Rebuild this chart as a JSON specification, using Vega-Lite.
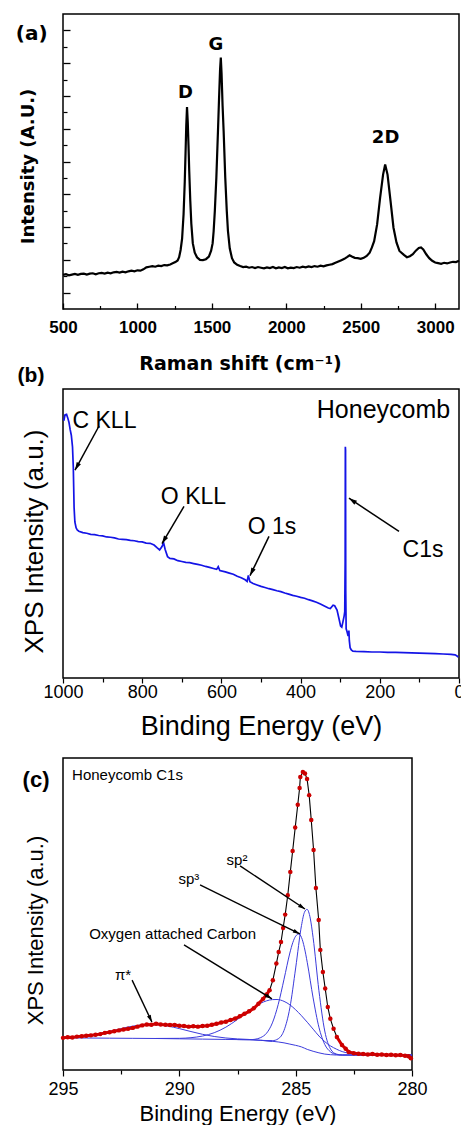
{
"$schema": "https://vega.github.io/schema/vega-lite/v6.json",
"padding": {"left": 15, "top": 13, "right": 0, "bottom": 0},
"background": "white",
"bounds": "flush",
"spacing": 80,
"config": {
  "view": {"stroke": "black", "strokeWidth": 1.5},
  "axis": {"grid": false, "domain": false, "labelColor": "black", "titleColor": "black", "tickColor": "black", "labelFlush": false, "labelOverlap": false}
},
"datasets": {
  "raman": [
    {"shift":500,"intensity":1.04},{"shift":520,"intensity":1.06},{"shift":540,"intensity":1.03},{"shift":560,"intensity":1.05},{"shift":580,"intensity":1.07},{"shift":600,"intensity":1.04},{"shift":620,"intensity":1.07},{"shift":640,"intensity":1.08},{"shift":660,"intensity":1.05},{"shift":680,"intensity":1.08},{"shift":700,"intensity":1.09},{"shift":720,"intensity":1.06},{"shift":740,"intensity":1.09},{"shift":760,"intensity":1.10},{"shift":780,"intensity":1.08},{"shift":800,"intensity":1.11},{"shift":820,"intensity":1.09},{"shift":840,"intensity":1.12},{"shift":860,"intensity":1.13},{"shift":880,"intensity":1.11},{"shift":900,"intensity":1.14},{"shift":920,"intensity":1.12},{"shift":940,"intensity":1.15},{"shift":960,"intensity":1.17},{"shift":980,"intensity":1.15},{"shift":1000,"intensity":1.18},{"shift":1020,"intensity":1.17},{"shift":1040,"intensity":1.21},{"shift":1060,"intensity":1.27},{"shift":1080,"intensity":1.29},{"shift":1100,"intensity":1.31},{"shift":1120,"intensity":1.29},{"shift":1140,"intensity":1.32},{"shift":1160,"intensity":1.31},{"shift":1180,"intensity":1.34},{"shift":1200,"intensity":1.33},{"shift":1220,"intensity":1.36},{"shift":1240,"intensity":1.40},{"shift":1255,"intensity":1.43},{"shift":1270,"intensity":1.48},{"shift":1280,"intensity":1.58},{"shift":1290,"intensity":1.80},{"shift":1300,"intensity":2.15},{"shift":1310,"intensity":2.90},{"shift":1318,"intensity":3.90},{"shift":1324,"intensity":4.90},{"shift":1328,"intensity":5.60},{"shift":1333,"intensity":6.16},{"shift":1338,"intensity":5.70},{"shift":1343,"intensity":5.00},{"shift":1348,"intensity":4.20},{"shift":1355,"intensity":3.30},{"shift":1362,"intensity":2.60},{"shift":1372,"intensity":2.00},{"shift":1385,"intensity":1.72},{"shift":1400,"intensity":1.58},{"shift":1420,"intensity":1.50},{"shift":1440,"intensity":1.49},{"shift":1460,"intensity":1.52},{"shift":1480,"intensity":1.60},{"shift":1495,"intensity":1.78},{"shift":1505,"intensity":2.00},{"shift":1512,"intensity":2.38},{"shift":1520,"intensity":3.00},{"shift":1530,"intensity":4.00},{"shift":1541,"intensity":5.43},{"shift":1548,"intensity":6.40},{"shift":1555,"intensity":7.30},{"shift":1560,"intensity":7.67},{"shift":1565,"intensity":7.20},{"shift":1572,"intensity":6.20},{"shift":1579,"intensity":5.43},{"shift":1590,"intensity":4.00},{"shift":1600,"intensity":3.00},{"shift":1608,"intensity":2.38},{"shift":1620,"intensity":1.85},{"shift":1635,"intensity":1.55},{"shift":1650,"intensity":1.42},{"shift":1670,"intensity":1.35},{"shift":1690,"intensity":1.31},{"shift":1710,"intensity":1.28},{"shift":1730,"intensity":1.29},{"shift":1750,"intensity":1.26},{"shift":1770,"intensity":1.28},{"shift":1790,"intensity":1.25},{"shift":1810,"intensity":1.28},{"shift":1830,"intensity":1.26},{"shift":1850,"intensity":1.24},{"shift":1870,"intensity":1.27},{"shift":1890,"intensity":1.25},{"shift":1910,"intensity":1.28},{"shift":1930,"intensity":1.24},{"shift":1950,"intensity":1.27},{"shift":1970,"intensity":1.25},{"shift":1990,"intensity":1.28},{"shift":2010,"intensity":1.24},{"shift":2030,"intensity":1.26},{"shift":2050,"intensity":1.25},{"shift":2070,"intensity":1.28},{"shift":2090,"intensity":1.26},{"shift":2110,"intensity":1.29},{"shift":2130,"intensity":1.27},{"shift":2150,"intensity":1.30},{"shift":2170,"intensity":1.28},{"shift":2190,"intensity":1.31},{"shift":2210,"intensity":1.29},{"shift":2230,"intensity":1.32},{"shift":2250,"intensity":1.30},{"shift":2270,"intensity":1.33},{"shift":2290,"intensity":1.35},{"shift":2310,"intensity":1.37},{"shift":2330,"intensity":1.41},{"shift":2350,"intensity":1.45},{"shift":2370,"intensity":1.49},{"shift":2390,"intensity":1.53},{"shift":2410,"intensity":1.59},{"shift":2425,"intensity":1.64},{"shift":2440,"intensity":1.60},{"shift":2460,"intensity":1.56},{"shift":2480,"intensity":1.55},{"shift":2500,"intensity":1.53},{"shift":2520,"intensity":1.56},{"shift":2540,"intensity":1.62},{"shift":2560,"intensity":1.72},{"shift":2575,"intensity":1.88},{"shift":2590,"intensity":2.07},{"shift":2610,"intensity":2.58},{"shift":2630,"intensity":3.39},{"shift":2650,"intensity":4.10},{"shift":2664,"intensity":4.41},{"shift":2680,"intensity":4.10},{"shift":2700,"intensity":3.30},{"shift":2720,"intensity":2.48},{"shift":2740,"intensity":2.03},{"shift":2760,"intensity":1.77},{"shift":2790,"intensity":1.65},{"shift":2810,"intensity":1.58},{"shift":2830,"intensity":1.61},{"shift":2850,"intensity":1.67},{"shift":2870,"intensity":1.78},{"shift":2890,"intensity":1.86},{"shift":2905,"intensity":1.88},{"shift":2920,"intensity":1.82},{"shift":2940,"intensity":1.67},{"shift":2960,"intensity":1.55},{"shift":2980,"intensity":1.47},{"shift":3000,"intensity":1.42},{"shift":3020,"intensity":1.40},{"shift":3040,"intensity":1.38},{"shift":3060,"intensity":1.41},{"shift":3080,"intensity":1.39},{"shift":3100,"intensity":1.42},{"shift":3120,"intensity":1.44},{"shift":3140,"intensity":1.43},{"shift":3160,"intensity":1.47}
  ],
  "ramanLabels": [
    {"shift":1323,"intensity":6.59,"label":"D"},
    {"shift":1527,"intensity":8.05,"label":"G"},
    {"shift":2667,"intensity":5.22,"label":"2D"}
  ],
  "panelA": [{"shift":290,"intensity":8.39,"label":"(a)"}],
  "survey": [
    {"energy":998,"counts":8.9},{"energy":995,"counts":9.1},{"energy":991,"counts":9.12},{"energy":988,"counts":9.0},{"energy":985,"counts":8.85},{"energy":982,"counts":8.6},{"energy":979,"counts":8.4},{"energy":976,"counts":8.0},{"energy":974,"counts":7.3},{"energy":973,"counts":6.6},{"energy":972,"counts":5.9},{"energy":970,"counts":5.4},{"energy":967,"counts":5.2},{"energy":964,"counts":5.12},{"energy":960,"counts":5.08},{"energy":950,"counts":5.03},{"energy":940,"counts":5.01},{"energy":930,"counts":4.97},{"energy":920,"counts":4.96},{"energy":910,"counts":4.93},{"energy":900,"counts":4.92},{"energy":890,"counts":4.88},{"energy":880,"counts":4.87},{"energy":870,"counts":4.85},{"energy":860,"counts":4.81},{"energy":850,"counts":4.8},{"energy":840,"counts":4.79},{"energy":830,"counts":4.76},{"energy":820,"counts":4.75},{"energy":810,"counts":4.72},{"energy":800,"counts":4.71},{"energy":790,"counts":4.67},{"energy":780,"counts":4.66},{"energy":770,"counts":4.6},{"energy":762,"counts":4.5},{"energy":756,"counts":4.43},{"energy":750,"counts":4.55},{"energy":746,"counts":4.68},{"energy":742,"counts":4.45},{"energy":736,"counts":4.2},{"energy":730,"counts":4.14},{"energy":720,"counts":4.12},{"energy":710,"counts":4.06},{"energy":700,"counts":4.03},{"energy":690,"counts":4.0},{"energy":680,"counts":3.99},{"energy":670,"counts":3.96},{"energy":660,"counts":3.93},{"energy":650,"counts":3.9},{"energy":640,"counts":3.86},{"energy":630,"counts":3.83},{"energy":620,"counts":3.79},{"energy":612,"counts":3.76},{"energy":608,"counts":3.85},{"energy":604,"counts":3.72},{"energy":590,"counts":3.67},{"energy":580,"counts":3.63},{"energy":570,"counts":3.59},{"energy":560,"counts":3.52},{"energy":550,"counts":3.47},{"energy":540,"counts":3.4},{"energy":535,"counts":3.34},{"energy":532,"counts":3.55},{"energy":528,"counts":3.33},{"energy":520,"counts":3.27},{"energy":510,"counts":3.22},{"energy":500,"counts":3.17},{"energy":490,"counts":3.13},{"energy":480,"counts":3.09},{"energy":470,"counts":3.06},{"energy":460,"counts":3.02},{"energy":450,"counts":2.99},{"energy":440,"counts":2.94},{"energy":430,"counts":2.9},{"energy":420,"counts":2.86},{"energy":410,"counts":2.83},{"energy":400,"counts":2.79},{"energy":390,"counts":2.76},{"energy":380,"counts":2.71},{"energy":370,"counts":2.67},{"energy":360,"counts":2.62},{"energy":350,"counts":2.56},{"energy":340,"counts":2.49},{"energy":330,"counts":2.42},{"energy":325,"counts":2.4},{"energy":318,"counts":2.52},{"energy":314,"counts":2.5},{"energy":308,"counts":2.35},{"energy":303,"counts":2.05},{"energy":299,"counts":1.8},{"energy":296,"counts":1.76},{"energy":293,"counts":1.95},{"energy":290,"counts":2.15},{"energy":288.5,"counts":2.3},{"energy":287.5,"counts":4.0},{"energy":287,"counts":8.0},{"energy":286.5,"counts":7.9},{"energy":286,"counts":3.0},{"energy":285,"counts":1.7},{"energy":283,"counts":1.62},{"energy":280,"counts":1.45},{"energy":278,"counts":1.64},{"energy":277,"counts":1.3},{"energy":275,"counts":1.05},{"energy":272,"counts":0.97},{"energy":268,"counts":0.93},{"energy":260,"counts":0.92},{"energy":240,"counts":0.91},{"energy":220,"counts":0.9},{"energy":200,"counts":0.9},{"energy":180,"counts":0.89},{"energy":160,"counts":0.89},{"energy":140,"counts":0.88},{"energy":120,"counts":0.87},{"energy":100,"counts":0.86},{"energy":80,"counts":0.85},{"energy":60,"counts":0.84},{"energy":40,"counts":0.83},{"energy":20,"counts":0.82},{"energy":10,"counts":0.8},{"energy":5,"counts":0.76},{"energy":2,"counts":0.72}
  ],
  "surveyArrows": [
    {"x1":909,"y1":8.72,"x2":969.7,"y2":7.19,"ang":208.6},
    {"x1":694.4,"y1":5.94,"x2":750,"y2":4.65,"ang":210.7},
    {"x1":479.8,"y1":4.9,"x2":527.8,"y2":3.54,"ang":206},
    {"x1":151.5,"y1":5.07,"x2":277.8,"y2":6.22,"ang":303.4}
  ],
  "surveyLabels": [
    {"energy":895.2,"counts":8.89,"label":"C KLL"},
    {"energy":670.5,"counts":6.25,"label":"O KLL"},
    {"energy":472.2,"counts":5.21,"label":"O 1s"},
    {"energy":90.9,"counts":4.44,"label":"C1s"}
  ],
  "surveyTitle": [{"energy":190.6,"counts":9.27,"label":"Honeycomb"}],
  "panelB": [{"energy":1080.8,"counts":10.45,"label":"(b)"}],
  "xps": [
    {"energy":295.0,"intensity":1.03},{"energy":294.8,"intensity":1.05},{"energy":294.6,"intensity":1.04},{"energy":294.4,"intensity":1.07},{"energy":294.2,"intensity":1.08},{"energy":294.0,"intensity":1.10},{"energy":293.8,"intensity":1.11},{"energy":293.6,"intensity":1.13},{"energy":293.4,"intensity":1.15},{"energy":293.2,"intensity":1.19},{"energy":293.0,"intensity":1.21},{"energy":292.8,"intensity":1.24},{"energy":292.6,"intensity":1.27},{"energy":292.4,"intensity":1.30},{"energy":292.2,"intensity":1.32},{"energy":292.0,"intensity":1.35},{"energy":291.8,"intensity":1.39},{"energy":291.6,"intensity":1.43},{"energy":291.4,"intensity":1.46},{"energy":291.2,"intensity":1.45},{"energy":291.0,"intensity":1.48},{"energy":290.8,"intensity":1.46},{"energy":290.6,"intensity":1.45},{"energy":290.4,"intensity":1.44},{"energy":290.2,"intensity":1.44},{"energy":290.0,"intensity":1.42},{"energy":289.8,"intensity":1.41},{"energy":289.6,"intensity":1.39},{"energy":289.4,"intensity":1.40},{"energy":289.2,"intensity":1.39},{"energy":289.0,"intensity":1.41},{"energy":288.8,"intensity":1.42},{"energy":288.6,"intensity":1.45},{"energy":288.4,"intensity":1.48},{"energy":288.2,"intensity":1.52},{"energy":288.0,"intensity":1.55},{"energy":287.8,"intensity":1.60},{"energy":287.6,"intensity":1.65},{"energy":287.4,"intensity":1.72},{"energy":287.2,"intensity":1.80},{"energy":287.0,"intensity":1.88},{"energy":286.8,"intensity":1.98},{"energy":286.6,"intensity":2.12},{"energy":286.4,"intensity":2.28},{"energy":286.25,"intensity":2.42},{"energy":286.12,"intensity":2.56},{"energy":285.98,"intensity":2.88},{"energy":285.83,"intensity":3.41},{"energy":285.73,"intensity":3.78},{"energy":285.63,"intensity":4.10},{"energy":285.54,"intensity":4.55},{"energy":285.45,"intensity":4.98},{"energy":285.34,"intensity":5.60},{"energy":285.23,"intensity":6.35},{"energy":285.13,"intensity":7.02},{"energy":285.02,"intensity":7.77},{"energy":284.91,"intensity":8.50},{"energy":284.83,"intensity":9.04},{"energy":284.8,"intensity":9.39},{"energy":284.69,"intensity":9.55},{"energy":284.6,"intensity":9.50},{"energy":284.51,"intensity":9.33},{"energy":284.42,"intensity":8.81},{"energy":284.33,"intensity":8.01},{"energy":284.23,"intensity":7.05},{"energy":284.13,"intensity":5.83},{"energy":284.01,"intensity":4.81},{"energy":283.94,"intensity":3.85},{"energy":283.83,"intensity":3.14},{"energy":283.73,"intensity":2.61},{"energy":283.62,"intensity":2.02},{"energy":283.51,"intensity":1.64},{"energy":283.37,"intensity":1.32},{"energy":283.23,"intensity":1.06},{"energy":283.01,"intensity":0.80},{"energy":282.85,"intensity":0.68},{"energy":282.72,"intensity":0.58},{"energy":282.5,"intensity":0.54},{"energy":282.3,"intensity":0.52},{"energy":282.1,"intensity":0.51},{"energy":281.9,"intensity":0.50},{"energy":281.7,"intensity":0.51},{"energy":281.5,"intensity":0.49},{"energy":281.3,"intensity":0.50},{"energy":281.1,"intensity":0.48},{"energy":280.9,"intensity":0.49},{"energy":280.7,"intensity":0.47},{"energy":280.5,"intensity":0.48},{"energy":280.3,"intensity":0.46},{"energy":280.15,"intensity":0.44},{"energy":280.05,"intensity":0.38}
  ],
  "components": [
    {"comp":"background","energy":295,"intensity":1.03},{"comp":"background","energy":294,"intensity":1.025},{"comp":"background","energy":293,"intensity":1.02},{"comp":"background","energy":292,"intensity":1.015},{"comp":"background","energy":291,"intensity":1.01},{"comp":"background","energy":290,"intensity":1.0},{"comp":"background","energy":289,"intensity":0.99},{"comp":"background","energy":288,"intensity":0.98},{"comp":"background","energy":287,"intensity":0.97},{"comp":"background","energy":286.5,"intensity":0.95},{"comp":"background","energy":286,"intensity":0.92},{"comp":"background","energy":285.5,"intensity":0.87},{"comp":"background","energy":285.25,"intensity":0.83},{"comp":"background","energy":285,"intensity":0.79},{"comp":"background","energy":284.75,"intensity":0.74},{"comp":"background","energy":284.5,"intensity":0.66},{"comp":"background","energy":284.25,"intensity":0.6},{"comp":"background","energy":284,"intensity":0.55},{"comp":"background","energy":283.75,"intensity":0.51},{"comp":"background","energy":283.5,"intensity":0.49},{"comp":"background","energy":283.25,"intensity":0.48},{"comp":"background","energy":283,"intensity":0.48},{"comp":"background","energy":280,"intensity":0.48},
    {"comp":"pi","energy":295,"intensity":1.048},{"comp":"pi","energy":294,"intensity":1.104},{"comp":"pi","energy":293,"intensity":1.239},{"comp":"pi","energy":292,"intensity":1.406},{"comp":"pi","energy":291.5,"intensity":1.453},{"comp":"pi","energy":291.2,"intensity":1.46},{"comp":"pi","energy":291,"intensity":1.456},{"comp":"pi","energy":290.5,"intensity":1.409},{"comp":"pi","energy":290,"intensity":1.327},{"comp":"pi","energy":289.5,"intensity":1.232},{"comp":"pi","energy":289,"intensity":1.143},{"comp":"pi","energy":288.5,"intensity":1.074},{"comp":"pi","energy":288,"intensity":1.026},{"comp":"pi","energy":287.5,"intensity":0.997},{"comp":"pi","energy":287,"intensity":0.979},{"comp":"pi","energy":286.5,"intensity":0.953},{"comp":"pi","energy":286,"intensity":0.92},
    {"comp":"oxygen","energy":291,"intensity":1.011},{"comp":"oxygen","energy":290,"intensity":1.015},{"comp":"oxygen","energy":289.5,"intensity":1.036},{"comp":"oxygen","energy":289,"intensity":1.089},{"comp":"oxygen","energy":288.5,"intensity":1.195},{"comp":"oxygen","energy":288,"intensity":1.373},{"comp":"oxygen","energy":287.5,"intensity":1.621},{"comp":"oxygen","energy":287,"intensity":1.905},{"comp":"oxygen","energy":286.75,"intensity":2.032},{"comp":"oxygen","energy":286.5,"intensity":2.141},{"comp":"oxygen","energy":286.25,"intensity":2.217},{"comp":"oxygen","energy":286,"intensity":2.256},{"comp":"oxygen","energy":285.8,"intensity":2.26},{"comp":"oxygen","energy":285.5,"intensity":2.2},{"comp":"oxygen","energy":285.25,"intensity":2.09},{"comp":"oxygen","energy":285,"intensity":1.93},{"comp":"oxygen","energy":284.75,"intensity":1.74},{"comp":"oxygen","energy":284.5,"intensity":1.53},{"comp":"oxygen","energy":284.25,"intensity":1.31},{"comp":"oxygen","energy":284,"intensity":1.09},{"comp":"oxygen","energy":283.75,"intensity":0.91},{"comp":"oxygen","energy":283.5,"intensity":0.77},{"comp":"oxygen","energy":283.25,"intensity":0.67},{"comp":"oxygen","energy":283,"intensity":0.59},{"comp":"oxygen","energy":282.5,"intensity":0.52},{"comp":"oxygen","energy":282,"intensity":0.49},{"comp":"oxygen","energy":281,"intensity":0.48},{"comp":"oxygen","energy":280,"intensity":0.48},
    {"comp":"sp3","energy":287.5,"intensity":0.975},{"comp":"sp3","energy":287,"intensity":0.97},{"comp":"sp3","energy":286.75,"intensity":0.985},{"comp":"sp3","energy":286.5,"intensity":1.04},{"comp":"sp3","energy":286.25,"intensity":1.18},{"comp":"sp3","energy":286,"intensity":1.51},{"comp":"sp3","energy":285.75,"intensity":2.1},{"comp":"sp3","energy":285.5,"intensity":2.91},{"comp":"sp3","energy":285.25,"intensity":3.75},{"comp":"sp3","energy":285.125,"intensity":4.08},{"comp":"sp3","energy":285,"intensity":4.29},{"comp":"sp3","energy":284.86,"intensity":4.36},{"comp":"sp3","energy":284.75,"intensity":4.25},{"comp":"sp3","energy":284.625,"intensity":3.92},{"comp":"sp3","energy":284.5,"intensity":3.44},{"comp":"sp3","energy":284.25,"intensity":2.31},{"comp":"sp3","energy":284,"intensity":1.37},{"comp":"sp3","energy":283.75,"intensity":0.82},{"comp":"sp3","energy":283.5,"intensity":0.58},{"comp":"sp3","energy":283.25,"intensity":0.5},{"comp":"sp3","energy":283,"intensity":0.48},{"comp":"sp3","energy":280,"intensity":0.48},
    {"comp":"sp2","energy":286.5,"intensity":0.95},{"comp":"sp2","energy":286,"intensity":0.94},{"comp":"sp2","energy":285.75,"intensity":1.0},{"comp":"sp2","energy":285.5,"intensity":1.27},{"comp":"sp2","energy":285.25,"intensity":1.99},{"comp":"sp2","energy":285,"intensity":3.27},{"comp":"sp2","energy":284.75,"intensity":4.63},{"comp":"sp2","energy":284.625,"intensity":5.05},{"comp":"sp2","energy":284.51,"intensity":5.15},{"comp":"sp2","energy":284.375,"intensity":4.87},{"comp":"sp2","energy":284.25,"intensity":4.24},{"comp":"sp2","energy":284,"intensity":2.54},{"comp":"sp2","energy":283.75,"intensity":1.25},{"comp":"sp2","energy":283.5,"intensity":0.67},{"comp":"sp2","energy":283.25,"intensity":0.51},{"comp":"sp2","energy":283,"intensity":0.48},{"comp":"sp2","energy":280,"intensity":0.48}
  ],
  "xpsArrows": [
    {"x1":287.39,"y1":6.54,"x2":284.6,"y2":5.16,"ang":123.5},
    {"x1":289.11,"y1":5.93,"x2":284.82,"y2":4.36,"ang":117.3},
    {"x1":289.8,"y1":4.01,"x2":286.02,"y2":2.28,"ang":121.5},
    {"x1":292.03,"y1":2.88,"x2":291.18,"y2":1.54,"ang":154.5}
  ],
  "xpsLabels": [
    {"energy":287.52,"intensity":6.73,"label":"sp²"},
    {"energy":289.59,"intensity":6.12,"label":"sp³"},
    {"energy":290.29,"intensity":4.36,"label":"Oxygen attached Carbon"},
    {"energy":292.42,"intensity":3.05,"label":"π*"}
  ],
  "xpsTitle": [{"energy":294.61,"intensity":9.46,"label":"Honeycomb C1s"}],
  "panelC": [{"energy":296.16,"intensity":9.29,"label":"(c)"}]
},
"vconcat": [
  {
    "width": 396, "height": 295,
    "layer": [
      {"data": {"name": "raman"}, "mark": {"type": "line", "color": "black", "strokeWidth": 2.2},
       "encoding": {
         "x": {"field": "shift", "type": "quantitative", "scale": {"domain": [500, 3160], "nice": false, "zero": false},
               "axis": {"orient": "bottom", "values": [500, 1000, 1500, 2000, 2500, 3000], "format": "d", "tickSize": -6, "tickWidth": 1.3, "labelFont": "Liberation Sans", "labelFontWeight": "bold", "labelFontSize": 17, "labelBaseline": "alphabetic", "labelPadding": 29, "title": "Raman shift (cm⁻¹)", "titleFont": "DejaVu Sans", "titleFontSize": 19, "titleFontWeight": "bold", "titleBaseline": "alphabetic", "titleX": 177, "titleY": 60}},
         "y": {"field": "intensity", "type": "quantitative", "scale": {"domain": [0, 9], "nice": false, "zero": false},
               "axis": {"orient": "left", "values": [0.5, 1.5, 2.5, 3.5, 4.5, 5.5, 6.5, 7.5, 8.5], "tickSize": -7, "tickWidth": 1.3, "labels": false, "title": "Intensity (A.U.)", "titleFont": "DejaVu Sans", "titleFontSize": 18, "titleFontWeight": "bold", "titleBaseline": "alphabetic", "titleX": -30, "titleY": 152}}
       }},
      {"data": {"name": "ramanLabels"}, "mark": {"type": "text", "font": "DejaVu Sans", "fontWeight": "bold", "fontSize": 18, "align": "center", "baseline": "middle", "color": "black"},
       "encoding": {
         "x": {"field": "shift", "type": "quantitative", "scale": {"domain": [500, 3160], "nice": false, "zero": false},
               "axis": {"orient": "bottom", "values": [750, 1250, 1750, 2250, 2750], "tickSize": -3.5, "tickWidth": 1.2, "labels": false, "title": null}},
         "y": {"field": "intensity", "type": "quantitative", "scale": {"domain": [0, 9], "nice": false, "zero": false},
               "axis": {"orient": "left", "values": [1, 2, 3, 4, 5, 6, 7, 8], "tickSize": -4, "tickWidth": 1.2, "labels": false, "title": null}},
         "text": {"field": "label"}
       }},
      {"data": {"name": "panelA"}, "mark": {"type": "text", "font": "DejaVu Sans", "fontWeight": "bold", "fontSize": 20, "align": "center", "baseline": "middle", "color": "black"},
       "encoding": {
         "x": {"field": "shift", "type": "quantitative", "scale": {"domain": [500, 3160], "nice": false, "zero": false}, "axis": null},
         "y": {"field": "intensity", "type": "quantitative", "scale": {"domain": [0, 9], "nice": false, "zero": false}, "axis": null},
         "text": {"field": "label"}
       }}
    ],
    "resolve": {"axis": {"x": "independent", "y": "independent"}}
  },
  {
    "width": 396, "height": 289,
    "layer": [
      {"data": {"name": "survey"}, "mark": {"type": "line", "color": "#1414e6", "strokeWidth": 1.7},
       "encoding": {
         "x": {"field": "energy", "type": "quantitative", "scale": {"domain": [0, 1000], "reverse": true, "nice": false, "zero": false},
               "axis": {"orient": "bottom", "values": [1000, 800, 600, 400, 200, 0], "format": "d", "tickSize": 5, "tickWidth": 1.2, "labelFont": "Liberation Sans", "labelFontSize": 18, "labelBaseline": "alphabetic", "labelPadding": 14, "title": "Binding Energy (eV)", "titleFont": "Liberation Sans", "titleFontSize": 27, "titleFontWeight": "normal", "titleBaseline": "alphabetic", "titleY": 56}},
         "y": {"field": "counts", "type": "quantitative", "scale": {"domain": [0, 10], "nice": false, "zero": false},
               "axis": {"orient": "left", "ticks": false, "labels": false, "title": "XPS Intensity (a.u.)", "titleFont": "Liberation Sans", "titleFontSize": 26, "titleFontWeight": "normal", "titleBaseline": "alphabetic", "titleX": -21, "titleY": 152}}
       }},
      {"data": {"name": "surveyArrows"}, "mark": {"type": "rule", "color": "black", "strokeWidth": 1.5},
       "encoding": {
         "x": {"field": "x1", "type": "quantitative", "scale": {"domain": [0, 1000], "reverse": true, "nice": false, "zero": false},
               "axis": {"orient": "bottom", "values": [900, 700, 500, 300, 100], "tickSize": 4, "tickWidth": 1.2, "labels": false, "title": null}},
         "y": {"field": "y1", "type": "quantitative", "scale": {"domain": [0, 10], "nice": false, "zero": false}, "axis": null},
         "x2": {"field": "x2"}, "y2": {"field": "y2"}
       }},
      {"data": {"name": "surveyArrows"}, "mark": {"type": "point", "shape": "M0,0L-0.6,2L0.6,2Z", "filled": true, "color": "black", "opacity": 1, "size": 64},
       "encoding": {
         "x": {"field": "x2", "type": "quantitative", "scale": {"domain": [0, 1000], "reverse": true, "nice": false, "zero": false}, "axis": null},
         "y": {"field": "y2", "type": "quantitative", "scale": {"domain": [0, 10], "nice": false, "zero": false}, "axis": null},
         "angle": {"field": "ang", "type": "quantitative", "scale": null}
       }},
      {"data": {"name": "surveyLabels"}, "mark": {"type": "text", "font": "Liberation Sans", "fontSize": 23, "align": "center", "baseline": "middle", "color": "black"},
       "encoding": {
         "x": {"field": "energy", "type": "quantitative", "scale": {"domain": [0, 1000], "reverse": true, "nice": false, "zero": false}, "axis": null},
         "y": {"field": "counts", "type": "quantitative", "scale": {"domain": [0, 10], "nice": false, "zero": false}, "axis": null},
         "text": {"field": "label"}
       }},
      {"data": {"name": "surveyTitle"}, "mark": {"type": "text", "font": "Liberation Sans", "fontSize": 25, "align": "center", "baseline": "middle", "color": "black"},
       "encoding": {
         "x": {"field": "energy", "type": "quantitative", "scale": {"domain": [0, 1000], "reverse": true, "nice": false, "zero": false}, "axis": null},
         "y": {"field": "counts", "type": "quantitative", "scale": {"domain": [0, 10], "nice": false, "zero": false}, "axis": null},
         "text": {"field": "label"}
       }},
      {"data": {"name": "panelB"}, "mark": {"type": "text", "font": "Liberation Sans", "fontWeight": "bold", "fontSize": 21, "align": "center", "baseline": "middle", "color": "black"},
       "encoding": {
         "x": {"field": "energy", "type": "quantitative", "scale": {"domain": [0, 1000], "reverse": true, "nice": false, "zero": false}, "axis": null},
         "y": {"field": "counts", "type": "quantitative", "scale": {"domain": [0, 10], "nice": false, "zero": false}, "axis": null},
         "text": {"field": "label"}
       }}
    ],
    "resolve": {"axis": {"x": "independent", "y": "independent"}}
  },
  {
    "width": 349, "height": 312,
    "layer": [
      {"data": {"name": "components"}, "mark": {"type": "line", "color": "#3b3bdc", "strokeWidth": 1, "interpolate": "monotone"},
       "encoding": {
         "x": {"field": "energy", "type": "quantitative", "scale": {"domain": [280, 295], "reverse": true, "nice": false, "zero": false},
               "axis": {"orient": "bottom", "values": [295, 290, 285, 280], "tickSize": 6, "tickWidth": 1.2, "labelFont": "Liberation Sans", "labelFontSize": 18, "labelBaseline": "alphabetic", "labelPadding": 18, "title": "Binding Energy (eV)", "titleFont": "Liberation Sans", "titleFontSize": 22, "titleFontWeight": "normal", "titleBaseline": "alphabetic", "titleY": 50}},
         "y": {"field": "intensity", "type": "quantitative", "scale": {"domain": [0, 10], "nice": false, "zero": false},
               "axis": {"orient": "left", "ticks": false, "labels": false, "title": "XPS Intensity (a.u.)", "titleFont": "Liberation Sans", "titleFontSize": 22, "titleFontWeight": "normal", "titleBaseline": "alphabetic", "titleX": -21, "titleY": 172}},
         "detail": {"field": "comp"}
       }},
      {"data": {"name": "xps"}, "mark": {"type": "line", "color": "black", "strokeWidth": 1.1},
       "encoding": {
         "x": {"field": "energy", "type": "quantitative", "scale": {"domain": [280, 295], "reverse": true, "nice": false, "zero": false},
               "axis": {"orient": "bottom", "values": [292.5, 287.5, 282.5], "tickSize": 4, "tickWidth": 1.2, "labels": false, "title": null}},
         "y": {"field": "intensity", "type": "quantitative", "scale": {"domain": [0, 10], "nice": false, "zero": false}, "axis": null}
       }},
      {"data": {"name": "xps"}, "transform": [{"filter": "datum.energy >= 286.12"}], "mark": {"type": "line", "color": "#d40000", "strokeWidth": 3},
       "encoding": {
         "x": {"field": "energy", "type": "quantitative", "scale": {"domain": [280, 295], "reverse": true, "nice": false, "zero": false}, "axis": null},
         "y": {"field": "intensity", "type": "quantitative", "scale": {"domain": [0, 10], "nice": false, "zero": false}, "axis": null}
       }},
      {"data": {"name": "xps"}, "transform": [{"filter": "datum.energy <= 283.23"}], "mark": {"type": "line", "color": "#d40000", "strokeWidth": 3},
       "encoding": {
         "x": {"field": "energy", "type": "quantitative", "scale": {"domain": [280, 295], "reverse": true, "nice": false, "zero": false}, "axis": null},
         "y": {"field": "intensity", "type": "quantitative", "scale": {"domain": [0, 10], "nice": false, "zero": false}, "axis": null}
       }},
      {"data": {"name": "xps"}, "mark": {"type": "point", "shape": "circle", "filled": true, "color": "#cc0000", "opacity": 1, "size": 20},
       "encoding": {
         "x": {"field": "energy", "type": "quantitative", "scale": {"domain": [280, 295], "reverse": true, "nice": false, "zero": false}, "axis": null},
         "y": {"field": "intensity", "type": "quantitative", "scale": {"domain": [0, 10], "nice": false, "zero": false}, "axis": null}
       }},
      {"data": {"name": "xpsArrows"}, "mark": {"type": "rule", "color": "black", "strokeWidth": 1.4},
       "encoding": {
         "x": {"field": "x1", "type": "quantitative", "scale": {"domain": [280, 295], "reverse": true, "nice": false, "zero": false}, "axis": null},
         "y": {"field": "y1", "type": "quantitative", "scale": {"domain": [0, 10], "nice": false, "zero": false}, "axis": null},
         "x2": {"field": "x2"}, "y2": {"field": "y2"}
       }},
      {"data": {"name": "xpsArrows"}, "mark": {"type": "point", "shape": "M0,0L-0.6,2L0.6,2Z", "filled": true, "color": "black", "opacity": 1, "size": 49},
       "encoding": {
         "x": {"field": "x2", "type": "quantitative", "scale": {"domain": [280, 295], "reverse": true, "nice": false, "zero": false}, "axis": null},
         "y": {"field": "y2", "type": "quantitative", "scale": {"domain": [0, 10], "nice": false, "zero": false}, "axis": null},
         "angle": {"field": "ang", "type": "quantitative", "scale": null}
       }},
      {"data": {"name": "xpsLabels"}, "mark": {"type": "text", "font": "Liberation Sans", "fontSize": 15, "align": "center", "baseline": "middle", "color": "black"},
       "encoding": {
         "x": {"field": "energy", "type": "quantitative", "scale": {"domain": [280, 295], "reverse": true, "nice": false, "zero": false}, "axis": null},
         "y": {"field": "intensity", "type": "quantitative", "scale": {"domain": [0, 10], "nice": false, "zero": false}, "axis": null},
         "text": {"field": "label"}
       }},
      {"data": {"name": "xpsTitle"}, "mark": {"type": "text", "font": "Liberation Sans", "fontSize": 15, "align": "left", "baseline": "middle", "color": "black"},
       "encoding": {
         "x": {"field": "energy", "type": "quantitative", "scale": {"domain": [280, 295], "reverse": true, "nice": false, "zero": false}, "axis": null},
         "y": {"field": "intensity", "type": "quantitative", "scale": {"domain": [0, 10], "nice": false, "zero": false}, "axis": null},
         "text": {"field": "label"}
       }},
      {"data": {"name": "panelC"}, "mark": {"type": "text", "font": "Liberation Sans", "fontWeight": "bold", "fontSize": 22, "align": "center", "baseline": "middle", "color": "black"},
       "encoding": {
         "x": {"field": "energy", "type": "quantitative", "scale": {"domain": [280, 295], "reverse": true, "nice": false, "zero": false}, "axis": null},
         "y": {"field": "intensity", "type": "quantitative", "scale": {"domain": [0, 10], "nice": false, "zero": false}, "axis": null},
         "text": {"field": "label"}
       }}
    ],
    "resolve": {"axis": {"x": "independent", "y": "independent"}}
  }
]
}
